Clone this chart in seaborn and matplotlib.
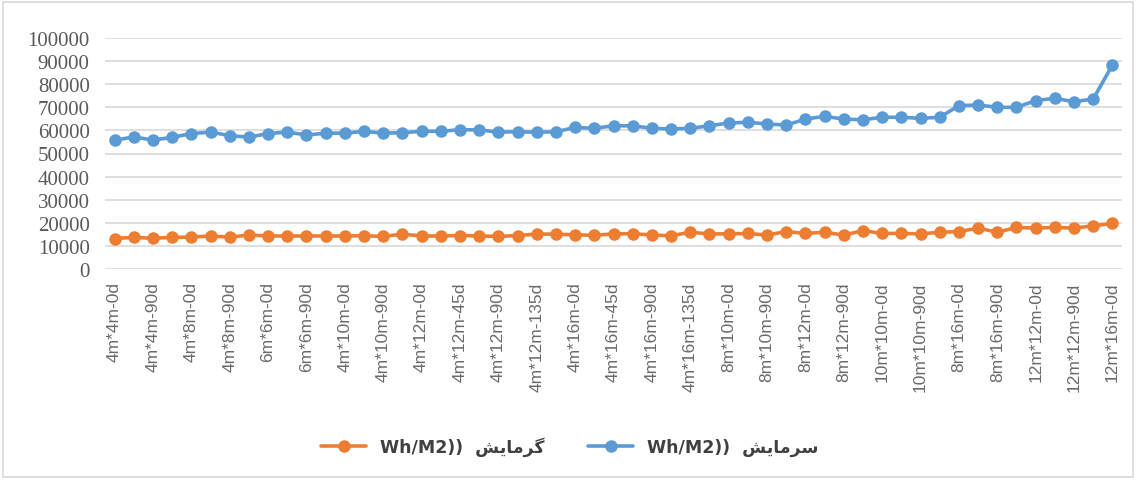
import pandas as pd
import matplotlib.pyplot as plt
import seaborn as sns
import numpy as np
from matplotlib.patches import Rectangle

# Etiquetas visibles del eje x (Excel muestra una de cada dos categorías)
tick_labels = [
    "4m*4m-0d", "4m*4m-90d", "4m*8m-0d", "4m*8m-90d", "6m*6m-0d", "6m*6m-90d",
    "4m*10m-0d", "4m*10m-90d", "4m*12m-0d", "4m*12m-45d", "4m*12m-90d",
    "4m*12m-135d", "4m*16m-0d", "4m*16m-45d", "4m*16m-90d", "4m*16m-135d",
    "8m*10m-0d", "8m*10m-90d", "8m*12m-0d", "8m*12m-90d", "10m*10m-0d",
    "10m*10m-90d", "8m*16m-0d", "8m*16m-90d", "12m*12m-0d", "12m*12m-90d",
    "12m*16m-0d",
]

# Nombres de las series (persa)
heating_name = "گرمایش"
cooling_name = "سرمایش"
unit = "Wh/M2))"

# Valores (53 casos)
heating = [13200, 13700, 13300, 13700, 13800, 14300, 13800, 14700, 14300, 14300,
           14300, 14300, 14300, 14400, 14100, 15100, 14300, 14300, 14500, 14300,
           14100, 14500, 15100, 15100, 14800, 14600, 15200, 15300, 14700, 14400,
           15900, 15200, 15200, 15400, 14700, 16200, 15400, 15900, 14700, 16600,
           15400, 15400, 15200, 15900, 16200, 17700, 15900, 18000, 17700, 18000,
           17700, 18700, 19700]
cooling = [55700, 57200, 55800, 57000, 58600, 59300, 57700, 57100, 58600, 59300,
           58000, 58800, 58800, 59600, 58800, 59000, 59600, 59600, 60300, 60200,
           59300, 59400, 59200, 59400, 61300, 60900, 62000, 62000, 60900, 60600,
           60900, 62000, 63200, 63500, 62800, 62300, 64900, 66100, 64900, 64600,
           65700, 65700, 65200, 65700, 70700, 71000, 70000, 70000, 72900, 73900,
           72400, 73600, 88300]

colores = ["#ED7D31", "#5B9BD5"]

# Formas de presentación árabes para que matplotlib dibuje el persa unido y de derecha a izquierda
formas = {
    'س': ('\uFEB1', '\uFEB2', '\uFEB3', '\uFEB4'),
    'ش': ('\uFEB5', '\uFEB6', '\uFEB7', '\uFEB8'),
    'م': ('\uFEE1', '\uFEE2', '\uFEE3', '\uFEE4'),
    'ی': ('\uFBFC', '\uFBFD', '\uFBFE', '\uFBFF'),
    'گ': ('\uFB92', '\uFB93', '\uFB94', '\uFB95'),
    'ر': ('\uFEAD', '\uFEAE', None, None),
    'ا': ('\uFE8D', '\uFE8E', None, None),
}

def shape_fa(word):
    out = []
    for k, ch in enumerate(word):
        f = formas[ch]
        prev_j = k > 0 and formas[word[k - 1]][2] is not None
        next_j = k < len(word) - 1 and f[2] is not None
        if prev_j and next_j:
            g = f[3]
        elif prev_j:
            g = f[1]
        elif next_j:
            g = f[2]
        else:
            g = f[0]
        out.append(g)
    return ''.join(reversed(out))

n = len(heating)
df = pd.DataFrame({
    'idx': list(range(n)) * 2,
    'valor': heating + cooling,
    'serie': ['heating'] * n + ['cooling'] * n,
})

sns.set_style("white")
plt.rcParams['font.family'] = ['DejaVu Sans']

W, H = 1137, 481
fig = plt.figure(figsize=(W / 100, H / 100), dpi=100)
left, right, top, bottom = 105, 1122, 39, 270
ax = fig.add_axes([left / W, 1 - bottom / H, (right - left) / W, (bottom - top) / H])

sns.lineplot(data=df, x='idx', y='valor', hue='serie', palette=colores,
             hue_order=['heating', 'cooling'], marker='o', markersize=9,
             markeredgewidth=0, linewidth=2.6, ax=ax, legend=False)

ax.set_xlim(-0.5, n - 0.5)
ax.set_ylim(0, 100000)
ax.set_yticks(range(0, 100001, 10000))
ax.set_yticklabels([str(v) for v in range(0, 100001, 10000)],
                   family='Liberation Serif', fontsize=15, color='#595959')
ax.set_xticks(range(0, n, 2))
ax.set_xticklabels(tick_labels, rotation=90, family='Liberation Sans',
                   fontsize=12.5, color='#6a6a6a', va='top', ha='center')
ax.tick_params(axis='both', length=0)
ax.tick_params(axis='y', pad=11)
ax.tick_params(axis='x', pad=9)
ax.set_xlabel('')
ax.set_ylabel('')
ax.yaxis.grid(True, color='#D9D9D9', linewidth=1.2)
ax.set_axisbelow(True)
for s in ax.spines.values():
    s.set_visible(False)

# Leyenda inferior
handles = ax.lines[:2]
labels = [unit + "  " + shape_fa(heating_name), unit + "  " + shape_fa(cooling_name)]
fig.legend(handles, labels, loc='center', bbox_to_anchor=(570 / W, 1 - 447 / H),
           ncol=2, frameon=False, handlelength=2.6, columnspacing=2.5,
           prop={'family': ['DejaVu Sans'], 'weight': 'bold', 'size': 12.5},
           labelcolor='#404040')

fig.patches.append(Rectangle((3 / W, 3 / H), 1 - 7 / W, 1 - 6 / H, transform=fig.transFigure,
                             fill=False, edgecolor='#D9D9D9', linewidth=1.2))

fig.savefig("out.png", dpi=100)
plt.close()
